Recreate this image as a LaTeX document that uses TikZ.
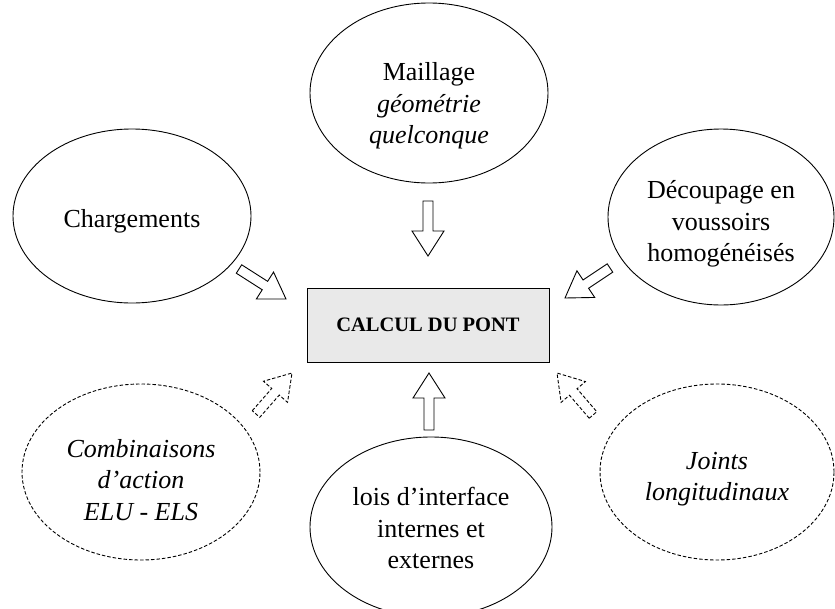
\documentclass[tikz,border=0pt]{standalone}
\usepackage{fontspec}
\setmainfont{Liberation Serif}
\usetikzlibrary{calc,shapes.geometric}
\tikzset{
  oval/.style={draw, ellipse, line width=0.9pt, inner sep=0pt},
  dashedoval/.style={oval, dash pattern=on 3.5pt off 2pt},
  txt/.style={align=center, font=\fontsize{26}{31.5}\selectfont, inner sep=0pt},
  mainbox/.style={draw, line width=0.9pt, fill=gray!17, minimum width=242pt, minimum height=74pt,
     font=\fontsize{20.5}{24}\selectfont\bfseries},
  blk/.style={draw, line width=0.9pt, fill=white},
  dblk/.style={blk, dash pattern=on 3.5pt off 2pt},
}
\newcommand{\blkarrow}[3][blk]{%
  \coordinate (tmpH) at ($(#3)!25pt!(#2)$);
  \draw[#1] ($(#2)!5pt!90:(#3)$) -- ($(tmpH)!5pt!90:(#3)$) -- ($(tmpH)!16pt!90:(#3)$)
    -- (#3) -- ($(tmpH)!16pt!-90:(#3)$) -- ($(tmpH)!5pt!-90:(#3)$) -- ($(#2)!5pt!-90:(#3)$) -- cycle;
}
\begin{document}
\begin{tikzpicture}[x=1pt, y=-1pt]
\useasboundingbox (0,0) rectangle (835,608);
% central box
\node[mainbox] (calc) at (428,325) {CALCUL DU PONT};
% ellipses
\node[oval, minimum width=238pt, minimum height=180pt] (maill) at (429,93) {};
\node[oval, minimum width=238pt, minimum height=174pt] (charg) at (132,216) {};
\node[oval, minimum width=226pt, minimum height=176pt] (decoup) at (721,217) {};
\node[dashedoval, minimum width=238pt, minimum height=176pt] (combi) at (141,472) {};
\node[dashedoval, minimum width=234pt, minimum height=176pt] (joints) at (717,472) {};
\node[oval, minimum width=242pt, minimum height=180pt] (lois) at (431,527) {};
% texts
\node[txt, yshift=-13pt] (tmaill) at (maill) {Maillage\\ \textit{géométrie}\\ \textit{quelconque}};
\node[txt, yshift=-5pt] (tcharg) at (charg) {Chargements};
\node[txt, yshift=-7pt] (tdecoup) at (decoup) {Découpage en\\ voussoirs\\ homogénéisés};
\node[txt, yshift=-8pt] (tcombi) at (combi) {\textit{Combinaisons}\\ \textit{d’action}\\ \textit{ELU - ELS}};
\node[txt, yshift=-7pt] (tjoints) at (joints) {\textit{Joints}\\ \textit{longitudinaux}};
\node[txt, yshift=-1pt] (tlois) at (lois) {lois d’interface\\ internes et\\ externes};
% arrow end points
\coordinate (a1s) at (428,201); \coordinate (a1e) at (428,256);
\coordinate (a2s) at (239,269); \coordinate (a2e) at (286,299);
\coordinate (a3s) at (610,268); \coordinate (a3e) at (565,298);
\coordinate (a4s) at (429,430); \coordinate (a4e) at (429,373);
\coordinate (a5s) at (256,414); \coordinate (a5e) at (292,373);
\coordinate (a6s) at (593,415); \coordinate (a6e) at (557,373);
\blkarrow{a1s}{a1e}
\blkarrow{a2s}{a2e}
\blkarrow{a3s}{a3e}
\blkarrow{a4s}{a4e}
\blkarrow[dblk]{a5s}{a5e}
\blkarrow[dblk]{a6s}{a6e}
\end{tikzpicture}
\end{document}
